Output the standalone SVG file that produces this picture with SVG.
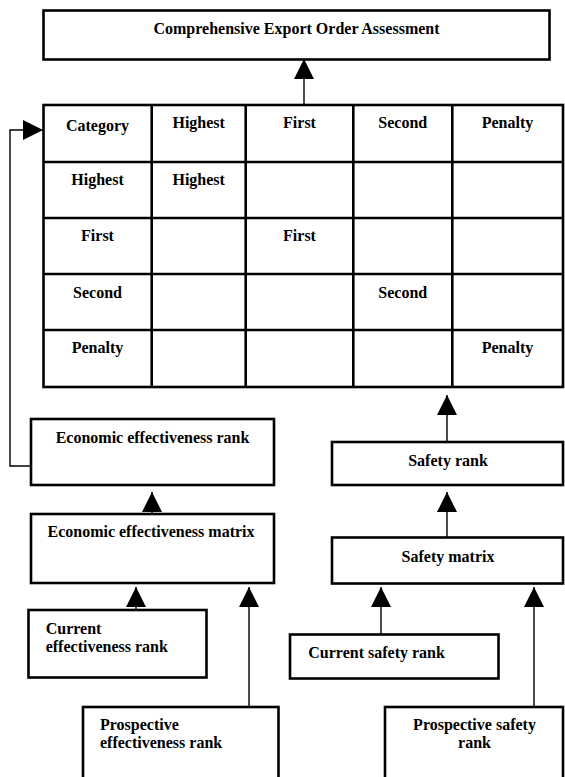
<svg xmlns="http://www.w3.org/2000/svg" width="565" height="777" viewBox="0 0 565 777">
<defs>
<style>
.box{fill:#fff;stroke:#000;stroke-width:2.6}
.grid{fill:none;stroke:#000;stroke-width:2.6}
.con{fill:none;stroke:#000;stroke-width:1.4}
text{font-family:"Liberation Serif","Times New Roman",serif;font-size:16px;font-weight:bold;fill:#000}
.c{text-anchor:middle}
</style>
<marker id="ah" markerUnits="userSpaceOnUse" markerWidth="20" markerHeight="20" refX="20" refY="10" orient="auto" viewBox="0 0 20 20">
<path d="M0,0 L20,10 L0,20 z" fill="#000"/>
</marker>
</defs>
<rect width="565" height="777" fill="#fff"/>
<g id="connectors">
<path class="con" d="M304,105 V59" marker-end="url(#ah)"/>
<path class="con" d="M31,466 H10 V130 H43" marker-end="url(#ah)"/>
<path class="con" d="M447,442 V395" marker-end="url(#ah)"/>
<path class="con" d="M152,514 V492" marker-end="url(#ah)"/>
<path class="con" d="M447,537 V492" marker-end="url(#ah)"/>
<path class="con" d="M136,610 V587" marker-end="url(#ah)"/>
<path class="con" d="M249,707 V587" marker-end="url(#ah)"/>
<path class="con" d="M381,634 V587" marker-end="url(#ah)"/>
<path class="con" d="M534,707 V587" marker-end="url(#ah)"/>
</g>
<g id="assessment">
<rect class="box" x="43.5" y="10.5" width="506" height="49"/>
<text class="c" x="296.5" y="34">Comprehensive Export Order Assessment</text>
</g>
<g id="matrix">
<rect class="box" x="43.5" y="105" width="519.5" height="282"/>
<path class="grid" d="M151.7,104 V387 M245.7,104 V387 M353.3,104 V387 M452.3,104 V387 M43.5,162 H563 M43.5,218 H563 M43.5,274 H563 M43.5,330 H563"/>
<text class="c" x="97.5" y="131">Category</text>
<text class="c" x="198.7" y="128">Highest</text>
<text class="c" x="299.5" y="128">First</text>
<text class="c" x="402.8" y="128">Second</text>
<text class="c" x="507.5" y="128">Penalty</text>
<text class="c" x="97.5" y="185">Highest</text>
<text class="c" x="198.7" y="185">Highest</text>
<text class="c" x="97.5" y="241">First</text>
<text class="c" x="299.5" y="241">First</text>
<text class="c" x="97.5" y="298">Second</text>
<text class="c" x="402.8" y="298">Second</text>
<text class="c" x="97.5" y="353">Penalty</text>
<text class="c" x="507.5" y="353">Penalty</text>
</g>
<g id="econ-rank">
<rect class="box" x="31" y="419" width="243" height="66"/>
<text class="c" x="152.5" y="443">Economic effectiveness rank</text>
</g>
<g id="safety-rank">
<rect class="box" x="332" y="442" width="231" height="43"/>
<text class="c" x="448" y="466">Safety rank</text>
</g>
<g id="econ-matrix">
<rect class="box" x="31" y="514" width="243" height="69"/>
<text class="c" x="151" y="537">Economic effectiveness matrix</text>
</g>
<g id="safety-matrix">
<rect class="box" x="332" y="537.5" width="231" height="46"/>
<text class="c" x="448" y="562">Safety matrix</text>
</g>
<g id="current-eff">
<rect class="box" x="28.5" y="610" width="178" height="67.5"/>
<text x="45.7" y="634">Current</text>
<text x="45.7" y="652.3">effectiveness rank</text>
</g>
<g id="prospective-eff">
<rect class="box" x="83" y="707" width="195.5" height="90"/>
<text x="100" y="730">Prospective</text>
<text x="100" y="748.3">effectiveness rank</text>
</g>
<g id="current-safety">
<rect class="box" x="290" y="634.5" width="208.5" height="44"/>
<text x="308.3" y="658.3">Current safety rank</text>
</g>
<g id="prospective-safety">
<rect class="box" x="385" y="707" width="178" height="90"/>
<text class="c" x="474.5" y="730">Prospective safety</text>
<text class="c" x="474.5" y="748.3">rank</text>
</g>
</svg>
